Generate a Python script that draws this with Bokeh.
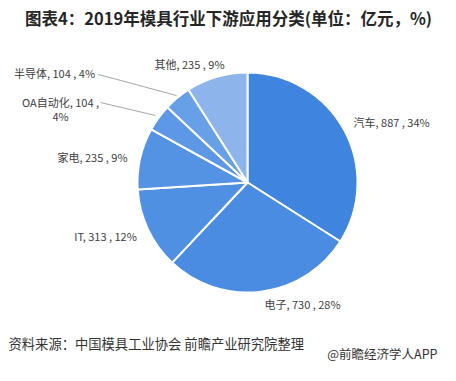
import math
from bokeh.plotting import figure
from bokeh.models import Range1d, ColumnDataSource
from bokeh.core.properties import value
from bokeh.embed import file_html
from bokeh.resources import INLINE

categories = ["汽车", "电子", "IT", "家电", "OA自动化", "半导体", "其他"]
values = [887, 730, 313, 235, 104, 104, 235]
colors = ["#3F85DF", "#4A8CE2", "#4F90E3", "#5493E4", "#5D98E6", "#68A0E8", "#8DB5EC"]

title_text = "图表4：2019年模具行业下游应用分类(单位：亿元，%)"
source_text = "资料来源：中国模具工业协会 前瞻产业研究院整理"
brand_text = "@前瞻经济学人APP"

FW, FH = 440, 365
FONT = "Noto Sans CJK SC"

def sy(y):
    return FH - y

p = figure(width=FW, height=FH, output_backend="svg", toolbar_location=None,
           x_range=Range1d(0, FW), y_range=Range1d(0, FH), min_border=0)
p.axis.visible = False
p.grid.visible = False
p.outline_line_color = None
p.background_fill_color = "white"

total = sum(values)
starts, ends = [], []
cum = 0.0
for v in values:
    a0 = math.pi / 2 - 2 * math.pi * (cum + v) / total
    a1 = math.pi / 2 - 2 * math.pi * cum / total
    starts.append(a0)
    ends.append(a1)
    cum += v

cx, cy, r = 247, sy(182), 110
src = ColumnDataSource(dict(start=starts, end=ends, color=colors))
p.wedge(x=cx, y=cy, radius=r, start_angle="start", end_angle="end",
        fill_color="color", line_color="white", line_width=2, source=src)

pcts = [round(v / total * 100) for v in values]
labels = [f"{c}, {v} , {pc}%" for c, v, pc in zip(categories, values, pcts)]

# leader lines
p.line(x=[98, 176], y=[sy(74), sy(95)], line_color="#A6A6A6", line_width=1)
p.line(x=[100, 155], y=[sy(102), sy(115)], line_color="#A6A6A6", line_width=1)

lab_color = "#404040"
pos = [
    (353, 121, "left"),
    (302, 303, "center"),
    (105, 235, "center"),
    (92, 156, "center"),
    None,
    (54, 72, "center"),
    (189, 63, "center"),
]
for lab, ps in zip(labels, pos):
    if ps is None:
        continue
    x, y, al = ps
    p.text(x=[x], y=[sy(y)], text=[lab], text_font=value(FONT), text_font_size="11px",
           text_color=lab_color, text_align=al, text_baseline="middle")

oa = labels[4]
first, second = oa.rsplit(" ", 1)
p.text(x=[60], y=[sy(101)], text=[first], text_font=value(FONT), text_font_size="11px",
       text_color=lab_color, text_align="center", text_baseline="middle")
p.text(x=[60], y=[sy(115)], text=[second], text_font=value(FONT), text_font_size="11px",
       text_color=lab_color, text_align="center", text_baseline="middle")

p.text(x=[228], y=[sy(17)], text=[title_text], text_font=value(FONT), text_font_size="16.5px",
       text_font_style="bold", text_color="#262626", text_align="center", text_baseline="middle")
p.text(x=[8], y=[sy(343)], text=[source_text], text_font=value(FONT), text_font_size="13.3px",
       text_color="#333333", text_align="left", text_baseline="middle")
p.text(x=[437], y=[sy(353)], text=[brand_text], text_font=value(FONT), text_font_size="12.5px",
       text_color="#333333", text_align="right", text_baseline="middle")

open("out.html", "w").write(file_html(p, INLINE))
